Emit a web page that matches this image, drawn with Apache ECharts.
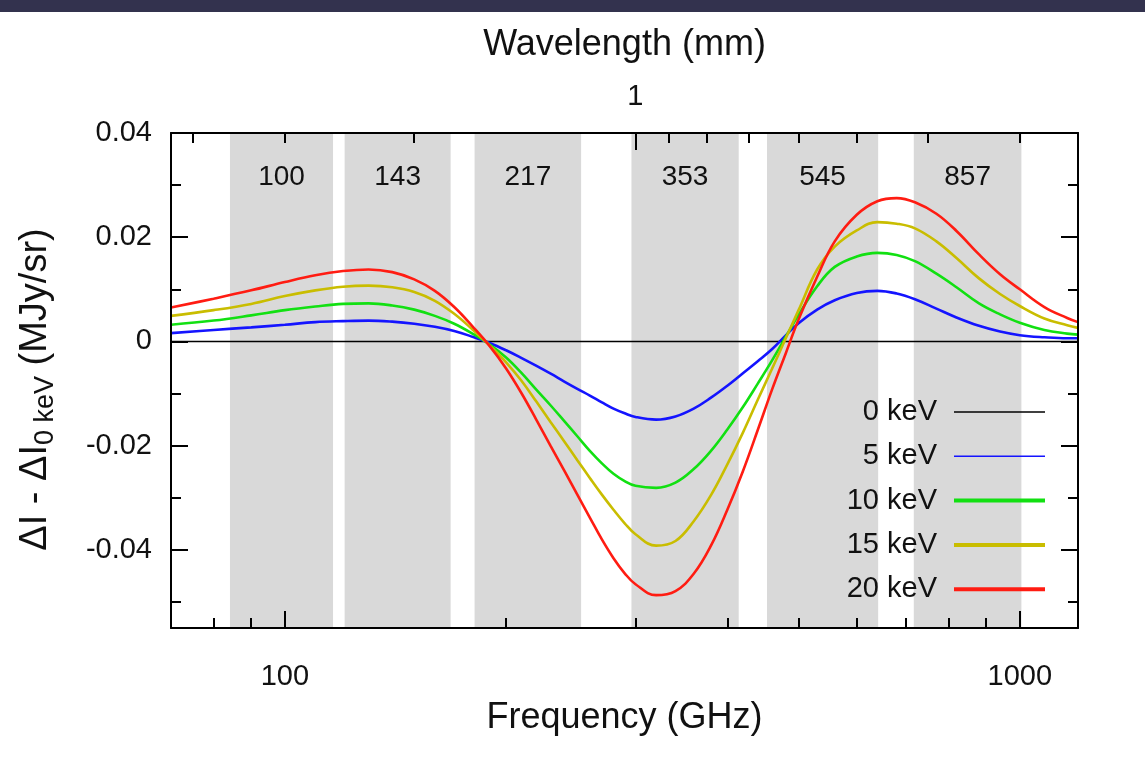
<!DOCTYPE html>
<html>
<head>
<meta charset="utf-8">
<title>Relativistic SZ spectral difference</title>
<script src="https://cdn.jsdelivr.net/npm/echarts@6/dist/echarts.min.js"></script>
<style>
  html, body { margin: 0; padding: 0; background: #ffffff; }
  #chart { width: 1145px; height: 763px; }
</style>
</head>
<body>
<div id="chart"></div>
<script>
// Frequency grid (GHz) shared by all curves
const freqGHz = [70, 80, 90, 100, 110, 120, 130, 140, 150, 160,
  170, 180, 190, 200, 210, 220, 230, 240, 250, 260,
  270, 280, 290, 300, 320, 340, 360, 380, 400, 420,
  440, 460, 480, 500, 530, 560, 600, 640, 680, 720,
  770, 820, 880, 940, 1000, 1080, 1160, 1200];

// ΔI - ΔI(0 keV) in MJy/sr for each electron temperature
const dI_0keV = freqGHz.map(() => 0);
const dI_5keV = [0.0016, 0.0022, 0.0027, 0.0032, 0.0037, 0.0039, 0.0040, 0.0038, 0.0034, 0.0028,
  0.0020, 0.0009, -0.0003, -0.0017, -0.0032, -0.0047, -0.0062, -0.0077, -0.0091, -0.0104,
  -0.0117, -0.0129, -0.0138, -0.0145, -0.0150, -0.0144, -0.0129, -0.0108, -0.0085, -0.0061,
  -0.0038, -0.0015, 0.0011, 0.0035, 0.0061, 0.0079, 0.0093, 0.0097, 0.0092, 0.0081,
  0.0063, 0.0046, 0.0030, 0.0019, 0.0012, 0.0008, 0.0006, 0.0006];
const dI_10keV = [0.0032, 0.0040, 0.0050, 0.0060, 0.0067, 0.0072, 0.0073, 0.0069, 0.0061, 0.0049,
  0.0034, 0.0015, -0.0006, -0.0031, -0.0061, -0.0093, -0.0123, -0.0153, -0.0182, -0.0210,
  -0.0234, -0.0254, -0.0268, -0.0277, -0.0281, -0.0271, -0.0245, -0.0210, -0.0169, -0.0126,
  -0.0081, -0.0037, 0.0008, 0.0051, 0.0106, 0.0143, 0.0163, 0.0170, 0.0166, 0.0154,
  0.0130, 0.0104, 0.0073, 0.0052, 0.0036, 0.0022, 0.0015, 0.0013];
const dI_15keV = [0.0049, 0.0060, 0.0072, 0.0087, 0.0098, 0.0105, 0.0107, 0.0104, 0.0095, 0.0078,
  0.0053, 0.0023, -0.0008, -0.0040, -0.0076, -0.0116, -0.0155, -0.0192, -0.0228, -0.0262,
  -0.0294, -0.0323, -0.0349, -0.0370, -0.0392, -0.0383, -0.0345, -0.0295, -0.0236, -0.0175,
  -0.0112, -0.0053, 0.0005, 0.0060, 0.0138, 0.0182, 0.0213, 0.0229, 0.0226, 0.0217,
  0.0192, 0.0160, 0.0121, 0.0091, 0.0068, 0.0044, 0.0031, 0.0026];
const dI_20keV = [0.0065, 0.0082, 0.0098, 0.0114, 0.0127, 0.0135, 0.0138, 0.0133, 0.0119, 0.0097,
  0.0066, 0.0029, -0.0009, -0.0052, -0.0100, -0.0151, -0.0201, -0.0248, -0.0294, -0.0338,
  -0.0380, -0.0416, -0.0445, -0.0466, -0.0487, -0.0479, -0.0446, -0.0392, -0.0323, -0.0249,
  -0.0170, -0.0093, -0.0024, 0.0042, 0.0124, 0.0192, 0.0243, 0.0269, 0.0275, 0.0267,
  0.0245, 0.0212, 0.0167, 0.0129, 0.0100, 0.0066, 0.0045, 0.0037];

const seriesNames = ['0 keV', '5 keV', '10 keV', '15 keV', '20 keV'];
const seriesColors = ['#000000', '#1414ff', '#12e012', '#c9bd00', '#ff1c12'];
const legendLineWidths = [1.5, 1.5, 4, 4, 4];

// Planck channel bands (GHz)
const bandNames = ['100', '143', '217', '353', '545', '857'];
const bandLow = [84.2, 120.6, 181.2, 296.2, 452.9, 717.4];
const bandHigh = [116.3, 168.1, 253.0, 414.5, 641.6, 1005];

// Axis ticks
const freqMajorTicks = [100, 1000];
const freqMinorTicks = [80, 90, 200, 300, 400, 500, 600, 700, 800, 900];
const wavelengthMajorMM = [1];
const wavelengthMinorMM = [4, 3, 2, 0.9, 0.8, 0.7, 0.6, 0.5, 0.4, 0.3];
const yMajorTicks = [-0.04, -0.02, 0, 0.02, 0.04];
const yMinorTicks = [-0.05, -0.03, -0.01, 0.01, 0.03];

const C_MM_GHZ = 299.792458; // speed of light in mm*GHz
const FONT = '"Liberation Sans", Arial, Helvetica, sans-serif';
const INK = '#111111';
const X_MIN = 70, X_MAX = 1200, Y_MIN = -0.055, Y_MAX = 0.04;

const curves = [dI_0keV, dI_5keV, dI_10keV, dI_15keV, dI_20keV];

function frameLine(show) {
  return { show: show, onZero: false, lineStyle: { color: '#000', width: 2 } };
}
function ticks(values, len) {
  return { show: true, inside: true, length: len, customValues: values,
           lineStyle: { color: '#000', width: 2 } };
}
function fmtY(v) { return Math.abs(v) < 1e-12 ? '0' : v.toFixed(2); }

const wlMajorFreq = wavelengthMajorMM.map(l => C_MM_GHZ / l);
const wlMinorFreq = wavelengthMinorMM.map(l => C_MM_GHZ / l);

const xAxes = [
  { // bottom: frame + minor ticks, carries the data
    type: 'log', logBase: 10, position: 'bottom', min: X_MIN, max: X_MAX, z: 10,
    axisLine: frameLine(true), axisTick: ticks(freqMinorTicks, 10),
    axisLabel: { show: false }, splitLine: { show: false }, minorTick: { show: false },
    name: 'Frequency (GHz)', nameLocation: 'middle', nameGap: 72,
    nameTextStyle: { fontSize: 36, fontFamily: FONT, color: INK }
  },
  { // bottom: major ticks with labels
    type: 'log', logBase: 10, position: 'bottom', min: X_MIN, max: X_MAX, z: 10,
    axisLine: frameLine(false), axisTick: ticks(freqMajorTicks, 17),
    axisLabel: { show: true, customValues: freqMajorTicks, margin: 34, fontSize: 29,
                 fontFamily: FONT, color: INK, formatter: v => String(Math.round(v)) },
    splitLine: { show: false }
  },
  { // top: wavelength frame + minor ticks
    type: 'log', logBase: 10, position: 'top', min: X_MIN, max: X_MAX, z: 10,
    axisLine: frameLine(true), axisTick: ticks(wlMinorFreq, 10),
    axisLabel: { show: false }, splitLine: { show: false },
    name: 'Wavelength (mm)', nameLocation: 'middle', nameGap: 70,
    nameTextStyle: { fontSize: 36, fontFamily: FONT, color: INK }
  },
  { // top: wavelength major tick with label
    type: 'log', logBase: 10, position: 'top', min: X_MIN, max: X_MAX, z: 10,
    axisLine: frameLine(false), axisTick: ticks(wlMajorFreq, 17),
    axisLabel: { show: true, customValues: wlMajorFreq, margin: 22, fontSize: 29,
                 fontFamily: FONT, color: INK,
                 formatter: v => String(Math.round(C_MM_GHZ / v * 10) / 10) },
    splitLine: { show: false }
  }
];

const yAxes = [
  { type: 'value', position: 'left', min: Y_MIN, max: Y_MAX, z: 10,
    axisLine: frameLine(true), axisTick: ticks(yMajorTicks, 17),
    axisLabel: { show: true, customValues: yMajorTicks, margin: 19, fontSize: 29,
                 fontFamily: FONT, color: INK, formatter: fmtY },
    splitLine: { show: false },
    name: '{m|ΔI - ΔI}{s|0 keV}{m| (MJy/sr)}',
    nameLocation: 'middle', nameRotate: 90, nameGap: 112,
    nameTextStyle: {
      color: INK, fontFamily: FONT, padding: [0, 18, 0, 0],
      rich: {
        m: { fontSize: 38, lineHeight: 46, fontFamily: FONT, color: INK },
        s: { fontSize: 27, lineHeight: 27, verticalAlign: 'bottom', fontFamily: FONT, color: INK }
      }
    }
  },
  { type: 'value', position: 'left', min: Y_MIN, max: Y_MAX, z: 10,
    axisLine: frameLine(false), axisTick: ticks(yMinorTicks, 10),
    axisLabel: { show: false }, splitLine: { show: false } },
  { type: 'value', position: 'right', min: Y_MIN, max: Y_MAX, z: 10,
    axisLine: frameLine(true), axisTick: ticks(yMajorTicks, 17),
    axisLabel: { show: false }, splitLine: { show: false } },
  { type: 'value', position: 'right', min: Y_MIN, max: Y_MAX, z: 10,
    axisLine: frameLine(false), axisTick: ticks(yMinorTicks, 10),
    axisLabel: { show: false }, splitLine: { show: false } }
];

const series = seriesNames.map((name, i) => {
  const s = {
    name: name,
    type: 'line',
    xAxisIndex: 0,
    yAxisIndex: 0,
    data: freqGHz.map((f, k) => [f, curves[i][k]]),
    smooth: i === 0 ? false : 0.4,
    symbol: 'none',
    silent: true,
    z: 3,
    lineStyle: { color: seriesColors[i], width: i === 0 ? 1.5 : 2.6 },
    itemStyle: { color: seriesColors[i] }
  };
  if (i === 0) {
    s.z = 2;
    s.markArea = {
      silent: true,
      z: 1,
      itemStyle: { color: '#d9d9d9' },
      label: { show: true, position: 'insideTop', distance: 30, fontSize: 28,
               fontFamily: FONT, color: INK, formatter: '{b}' },
      data: bandNames.map((n, b) => [{ name: n, xAxis: bandLow[b] }, { xAxis: bandHigh[b] }])
    };
  }
  return s;
});

const option = {
  animation: false,
  backgroundColor: '#ffffff',
  grid: { left: 171, right: 67, top: 133, bottom: 135, containLabel: false },
  xAxis: xAxes,
  yAxis: yAxes,
  legend: {
    orient: 'vertical',
    right: 98,
    top: 392,
    align: 'right',
    padding: 0,
    itemWidth: 91,
    itemHeight: 14,
    itemGap: 4.3,
    selectedMode: false,
    itemStyle: { opacity: 0 },
    textStyle: { fontSize: 29, lineHeight: 30, fontFamily: FONT, color: INK, padding: [10, 12, 0, 0] },
    data: seriesNames.map((n, i) => ({ name: n, lineStyle: { width: legendLineWidths[i] } }))
  },
  graphic: [
    { type: 'rect', left: 0, top: 0, shape: { x: 0, y: 0, width: 1145, height: 12 },
      style: { fill: '#33324e' }, z: 100, silent: true }
  ],
  series: series
};

const chart = echarts.init(document.getElementById('chart'), null, { renderer: 'canvas' });
chart.setOption(option);
</script>
</body>
</html>
